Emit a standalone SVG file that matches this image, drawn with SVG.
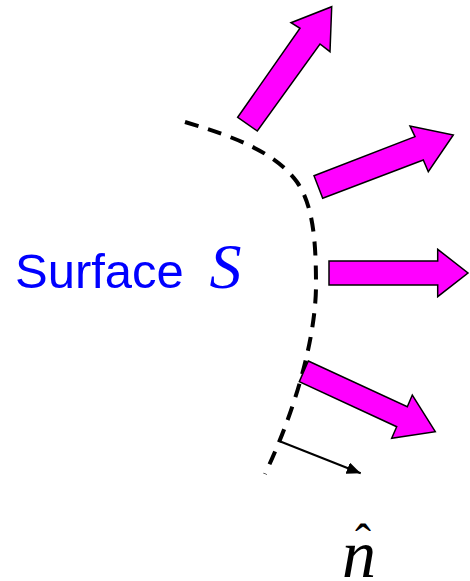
<svg xmlns="http://www.w3.org/2000/svg" width="470" height="581" viewBox="0 0 470 581">
<style>
.flux{fill:#FF00FF;stroke:#000;stroke-width:1.5;stroke-linejoin:miter}
.surf{fill:none;stroke:#000;stroke-width:4;stroke-dasharray:14 10}
.lbl{font-family:"Liberation Sans",Arial,sans-serif;font-size:49px;fill:#0000FF}
.sym{font-family:"Liberation Serif","Times New Roman",serif;font-style:italic}
</style>
<defs>
<marker id="ah" viewBox="0 0 14 12" refX="14" refY="6" markerWidth="14" markerHeight="12" markerUnits="userSpaceOnUse" orient="auto">
<path d="M0,0 L14,6 L0,12 z" fill="#000"/>
</marker>
</defs>
<g id="surface">
<path class="surf" d="M185,122 C235,137 275,152 297,182 C313,205 316,240 316,285 C316,330 300,400 265,474"/>
</g>
<g id="label-surface">
<text class="lbl" x="15" y="288">Surface <tspan class="sym" font-size="64" dx="12">S</tspan></text>
</g>
<g id="arrow1"><polygon class="flux" points="237.7,117.3 300,28.3 291,22.7 331.7,6.7 330,51.7 320,44 257.3,131"/></g>
<g id="arrow2"><polygon class="flux" points="314,175.7 415,136.7 410,126 453.3,135 428.3,171.7 423.3,160 322.7,198.3"/></g>
<g id="arrow3"><polygon class="flux" points="329,261 437.7,261 437.7,249.3 468,273 437.7,296.7 437.7,285 329,285"/></g>
<g id="arrow4"><polygon class="flux" points="308.3,361 407.3,406.7 412.3,395 435.3,431.7 391.7,438.3 396.7,426.7 299.3,381.7"/></g>
<g id="connectors">
<line x1="281" y1="441.7" x2="360.7" y2="473.3" stroke="#000" stroke-width="2" marker-end="url(#ah)"/>
</g>
<g id="label-n">
<text class="sym" x="342" y="577" font-size="68" fill="#000">n</text>
<text x="363" y="558" font-size="48" text-anchor="middle" font-family="Liberation Serif,Times New Roman,serif" fill="#000">ˆ</text>
</g>
</svg>
